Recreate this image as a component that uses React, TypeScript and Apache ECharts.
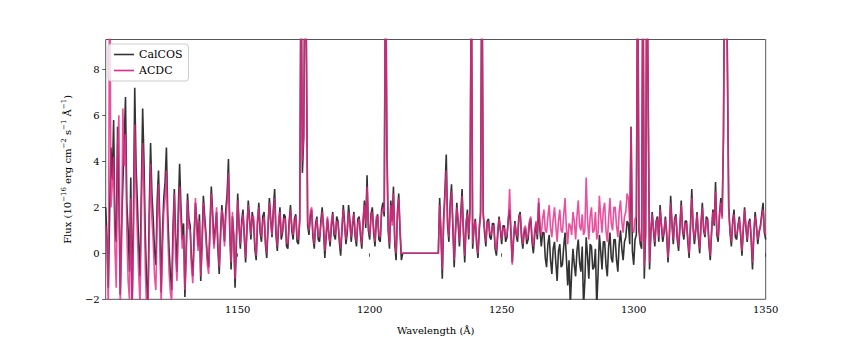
import React, { useEffect, useRef } from "react";
import * as echarts from "echarts";

const START_WAVELENGTH = 1100; // first sample (Å)
const STEP = 0.5; // sample spacing (Å)

// CalCOS flux, 1100–1350 Å every 0.5 Å (10 per row = 5 Å)
const calcos = [
  2.0, 0.6, -1.5, 1.8, 4.6, 3.2, 5.8, 1.1, 0.5, 5.5,
  2.4, -1.8, 1.0, 3.0, 4.9, 6.8, 2.2, 1.0, -0.8, 3.3,
  -2.4, 1.5, 7.2, 3.8, 2.2, 0.4, -1.0, 2.7, 6.3, 4.0,
  0.8, -1.2, -2.2, 1.9, 4.8, 2.6, 1.5, 0.1, -0.5, 2.3,
  3.6, 1.4, -1.7, 0.9, 2.4, 3.1, 4.6, 1.7, 0.2, -0.9,
  -1.6, 1.1, 2.8, 0.7, -0.8, 1.9, 3.9, 2.0, 0.6, 1.3,
  -1.9, 0.2, 2.6, 1.5, 1.2, -0.3, -1.0, 0.8, 2.2, 1.4,
  0.3, 1.7, -1.2, 0.5, 2.5, 1.6, 0.8, -0.2, -0.6, 1.2,
  2.9, 1.8, 0.4, 1.1, 1.8, 0.2, -0.9, 0.9, 2.1, 1.3,
  0.5, 1.9, 2.6, 4.1, 0.9, -0.7, 1.6, 0.8, -1.5, 0.4,
  2.6, 1.2, 0.2, 1.4, 1.9, 0.7, -0.4, 1.0, 2.3, 1.5,
  0.6, 1.8, 1.4, 0.2, -0.3, 1.3, 2.2, 0.9, 0.5, 1.6,
  1.8, 0.4, -0.2, 1.1, 2.4, 1.5, 0.7, 1.9, 2.8, 0.8,
  0.1, 1.2, 2.0, 0.6, 0.9, 1.7, 1.6, 0.3, 0.2, 1.4,
  2.1, 1.0, 0.6, 1.5, 1.7, 0.5, 0.4, 1.5, 13, 3.5,
  5.0, 13, 9.0, 1.2, 0.8, 1.6, 1.9, 0.7, 0.2, 1.3,
  1.6, 0.6, 0.5, 1.4, 2.0, 1.1, -0.2, 0.7, 1.5, 0.9,
  0.3, 1.2, 1.8, 0.8, 0.6, 1.6, 1.4, 0.5, -0.1, 1.0,
  2.1, 1.3, 0.4, 0.9, 2.1, 1.4, 0.5, 1.2, 1.8, 0.7,
  0.3, 1.5, 1.6, 0.8, 0.2, 1.3, 2.3, 1.1, 3.4, 1.0,
  0.6, 1.7, 2.0, 0.9, 0.3, 1.4, 1.7, 0.6, 0.5, 1.9,
  2.2, 1.6, 14, 4.6, 1.0, 0.2, 2.3, 1.4, 2.9, 0.4,
  -0.3, 1.8, 2.6, 0.9, -0.3, 0, 0, 0, 0, 0,
  0, 0, 0, 0, 0, 0, 0, 0, 0, 0,
  0, 0, 0, 0, 0, 0, 0, 0, 0, 0,
  0, 0, 0, 2.4, 0.8, -1.1, 1.5, 2.7, 4.3, 1.2,
  0.5, 2.2, 3.0, 1.1, -0.6, 0.9, 2.2, 1.3, 0.3, 1.7,
  2.8, 0.9, -0.4, 1.2, 1.9, 0.6, 2.0, 13, 0.2, 1.1,
  1.5, 0.4, -0.2, 1.0, 1.8, 14, 1.8, 0.9, 0.3, 1.4,
  1.5, 0.7, 0.6, 1.3, 1.3, 0.2, -0.1, 0.8, 1.6, 1.0,
  0.4, 1.2, 1.2, 0.5, 0.7, 1.5, 1.9, 0.9, -0.4, 0.6,
  1.4, 0.8, 0.5, 1.6, 1.8, 0.7, 0.2, 0.9, 1.1, 0.4,
  0.6, 1.3, 1.5, 0.5, 0.0, 0.8, 1.3, 0.6, 2.2, 1.0,
  0.3, 0.9, 0.9, -0.2, -0.6, 0.4, 0.8, -0.3, -0.9, 0.2,
  0.5, -0.4, -1.2, 0.1, 0.4, -0.6, -0.5, 0.3, 0.9, -0.2,
  -1.4, -0.3, -2.3, -0.8, 0.2, -0.5, -1.0, 0.1, 0.6, -0.4,
  -0.8, 0.3, -2.3, -1.2, 0.7, -0.1, -1.1, 0.4, 0.3, -0.7,
  -0.6, 0.2, -2.3, -0.9, 0.8, 0.1, -0.7, 0.5, 0.5, -0.5,
  -1.0, 0.3, 0.9, -0.2, -0.4, 0.6, 0.6, -0.3, -0.8, 0.4,
  1.0, 0.2, -0.3, 0.5, 0.7, 1.4, 1.3, 0.4, 5.5, 0.1,
  -0.5, 0.6, 0.8, 14, 1.0, 0.4, 0.2, 14, -1.1, 0.8,
  14, 6.4, -0.7, 0.9, 1.8, 1.0, 0.3, 1.4, 1.6, 0.5,
  2.1, 1.2, 0.5, 0.9, 1.6, 0.8, -0.4, 0.7, 2.5, 1.3,
  0.4, 1.5, 1.7, 0.6, 0.1, 1.1, 2.3, 1.0, 0.6, 1.4,
  1.4, 0.5, -0.2, 1.2, 2.8, 1.1, 0.4, 1.0, 1.8, 0.7,
  0.0, 1.3, 2.2, 1.0, 0.7, 1.6, 1.5, 0.4, -0.3, 0.9,
  1.9, 1.2, 3.1, 0.8, 0.5, 1.7, 2.4, 1.6, 5.0, 14,
  14, 8.0, 2.0, 0.9, 0.3, 1.4, 1.9, 0.7, 0.6, 1.2,
  1.6, 0.8, -0.1, 1.0, 2.0, 1.1, 0.5, 1.3, 1.5, 0.6,
  -0.7, 0.8, 1.8, 1.2, 0.4, 0.9, 1.2, 1.7, 2.2, 0.9,
  0.6,
];

// ACDC flux, same sampling
const acdc = [
  1.2, 0.3, -2.4, 14, 2.0, 3.0, 4.2, 0.2, -1.5, 4.6,
  6.0, -2.3, 0.3, 6.3, 3.8, 5.2, 1.0, -1.2, -2.0, 2.4,
  -2.5, 0.4, 5.6, 2.6, 0.8, -0.9, -2.2, 1.6, 4.8, 2.8,
  -0.6, -2.5, -2.4, 0.8, 3.9, 1.5, 0.5, -1.0, -1.6, 1.4,
  3.0, 0.6, -2.2, 0.1, 1.8, 2.4, 3.6, 0.9, -0.8, -1.7,
  -2.1, 0.4, 2.6, -0.2, -1.2, 1.2, 2.9, 1.4, 0.2, 0.8,
  -1.6, -0.2, 2.3, 1.1, 1.0, -0.6, -1.3, 0.4, 2.4, 1.0,
  0.1, 1.4, -1.0, 0.2, 2.2, 1.3, 0.6, -0.5, -0.9, 0.9,
  2.6, 1.5, 0.2, 0.9, 2.0, 0.5, -0.6, 0.6, 1.9, 1.6,
  0.3, 1.6, 2.2, 3.5, 1.1, -0.4, 1.8, 0.6, -1.1, 0.7,
  2.3, 1.4, 0.4, 1.2, 1.7, 0.9, -0.2, 1.2, 2.1, 1.3,
  0.8, 1.6, 1.6, 0.4, -0.1, 1.5, 2.0, 1.1, 0.7, 1.4,
  1.6, 0.6, 0.0, 1.3, 2.2, 1.3, 0.8, 1.7, 2.4, 1.0,
  0.3, 1.4, 1.8, 0.8, 1.0, 1.5, 1.5, 0.5, 0.4, 1.2,
  1.9, 1.2, 0.8, 1.3, 1.6, 0.7, 0.6, 1.4, 13, 4.0,
  5.2, 13, 9.5, 1.4, 1.0, 1.8, 2.0, 0.9, 0.4, 1.1,
  1.5, 0.8, 0.7, 1.2, 1.8, 1.3, 0.1, 0.9, 1.6, 0.7,
  0.5, 1.4, 1.7, 1.0, 0.8, 1.4, 1.3, 0.7, 0.2, 1.2,
  1.9, 1.1, 0.6, 1.1, 1.8, 1.2, 0.7, 1.4, 1.7, 0.9,
  0.5, 1.3, 1.5, 1.0, 0.4, 1.5, 2.1, 1.3, 2.9, 1.2,
  0.8, 1.5, 1.8, 1.1, 0.5, 1.6, 1.6, 0.8, 0.7, 1.7,
  2.0, 1.8, 14, 5.0, 1.2, 0.4, 2.1, 1.2, 2.6, 0.6,
  0.0, 1.6, 2.4, 1.1, 0.0, 0, 0, 0, 0, 0,
  0, 0, 0, 0, 0, 0, 0, 0, 0, 0,
  0, 0, 0, 0, 0, 0, 0, 0, 0, 0,
  0, 0, 0, 2.1, 1.0, -0.7, 1.3, 2.4, 3.6, 1.4,
  0.7, 2.0, 2.7, 1.3, -0.3, 1.1, 2.0, 1.5, 0.5, 1.5,
  2.5, 1.1, -0.1, 1.4, 1.7, 0.8, 1.8, 13, 0.4, 1.2,
  1.4, 0.6, 0.0, 1.2, 1.6, 13, 1.6, 1.1, 0.5, 1.3,
  1.4, 0.9, 0.8, 1.2, 1.2, 0.4, 0.1, 1.0, 1.5, 1.1,
  0.6, 1.1, 1.1, 0.7, 0.8, 1.4, 2.8, 1.0, -0.5, 0.8,
  1.3, 0.9, 0.7, 1.5, 1.7, 0.9, 0.4, 1.1, 1.2, 0.6,
  0.8, 1.4, 1.6, 0.7, 0.3, 1.0, 1.4, 0.8, 2.4, 1.2,
  0.8, 1.5, 1.9, 1.0, 0.9, 1.6, 2.1, 1.1, 0.7, 1.5,
  2.0, 1.2, 0.5, 1.4, 1.9, 1.0, 0.9, 1.7, 2.4, 1.1,
  0.4, 1.3, 1.2, 0.8, 1.8, 1.4, 0.6, 1.6, 2.3, 1.2,
  1.0, 1.7, 0.8, 1.0, 3.3, 1.5, 0.6, 1.6, 2.0, 0.9,
  1.0, 1.8, 0.6, 0.9, 2.5, 1.6, 0.9, 1.9, 2.2, 1.0,
  0.5, 1.5, 2.4, 1.3, 1.0, 2.0, 2.0, 1.2, 0.7, 1.8,
  2.3, 1.4, 0.9, 1.6, 1.8, 2.6, 2.4, 1.3, 5.5, 1.0,
  0.9, 1.5, 1.6, 14, 1.2, 0.6, 0.5, 14, -0.6, 1.0,
  14, 6.4, -0.4, 1.0, 1.7, 1.1, 0.5, 1.3, 1.5, 0.7,
  1.9, 1.3, 0.7, 1.0, 1.5, 0.9, -0.2, 0.8, 2.2, 1.2,
  0.6, 1.4, 1.6, 0.8, 0.3, 1.2, 2.1, 1.1, 0.8, 1.3,
  1.3, 0.7, 0.0, 1.1, 2.4, 1.2, 0.6, 1.1, 1.7, 0.9,
  0.2, 1.2, 2.0, 1.1, 0.8, 1.5, 1.4, 0.6, -0.1, 1.0,
  1.8, 1.3, 2.7, 0.9, 0.7, 1.6, 2.2, 1.5, 5.2, 14,
  14, 8.4, 1.8, 1.0, 0.5, 1.3, 1.7, 0.9, 0.8, 1.1,
  1.5, 0.9, 0.1, 1.1, 1.9, 1.2, 0.6, 1.2, 1.4, 0.8,
  -0.4, 0.9, 1.6, 1.1, 0.6, 1.0, 1.1, 1.6, 1.9, 1.0,
  0.8,
];

const FONT = "DejaVu Serif";

export default function App() {
  const ref = useRef<HTMLDivElement>(null);
  useEffect(() => {
    if (!ref.current) return;
    const chart = echarts.init(ref.current, undefined, { renderer: "svg" });
    const toPairs = (arr: number[]) =>
      arr.map((v, i) => [START_WAVELENGTH + i * STEP, v]);
    chart.setOption({
      animation: false,
      backgroundColor: "#ffffff",
      textStyle: { fontFamily: FONT },
      grid: {
        left: 105.7,
        right: 85.3,
        top: 39.5,
        bottom: 37.7,
        show: true,
        borderColor: "#555555",
        borderWidth: 1,
        outerBoundsMode: "none",
      },
      legend: {
        orient: "vertical",
        left: 108,
        top: 44,
        icon: "rect",
        itemWidth: 20,
        itemHeight: 1.6,
        itemGap: 5,
        padding: [5, 6, 5, 6],
        backgroundColor: "rgba(255,255,255,0.8)",
        borderColor: "#cccccc",
        borderWidth: 1,
        borderRadius: 3,
        textStyle: { fontFamily: FONT, fontSize: 11, color: "#000" },
        data: ["CalCOS", "ACDC"],
      },
      xAxis: {
        type: "value",
        min: 1100,
        max: 1350,
        interval: 50,
        name: "Wavelength (Å)",
        nameLocation: "middle",
        nameGap: 26,
        nameTextStyle: { fontFamily: FONT, fontSize: 10, color: "#000" },
        axisLine: { show: false },
        axisTick: { show: true, length: 3.5, lineStyle: { color: "#333", width: 0.8 } },
        axisLabel: {
          showMinLabel: false,
          fontFamily: FONT,
          fontSize: 10,
          color: "#000",
          margin: 5,
          formatter: (v: number) => String(v),
        },
        splitLine: { show: false },
      },
      yAxis: {
        type: "value",
        min: -2,
        max: 9.3,
        interval: 2,
        name:
          "{a|Flux (10}{s|−16}{a| erg cm}{s|−2}{a| s}{s|−1}{a| Å}{s|−1}{a|)}",
        nameLocation: "middle",
        nameRotate: 90,
        nameGap: 31,
        nameTextStyle: {
          fontFamily: FONT,
          fontSize: 10,
          color: "#000",
          rich: {
            a: { fontFamily: FONT, fontSize: 10, color: "#000" },
            s: { fontFamily: FONT, fontSize: 7, color: "#000", padding: [0, 0, 7, 0] },
          },
        },
        axisLine: { show: false },
        axisTick: { show: true, length: 3.5, lineStyle: { color: "#333", width: 0.8 } },
        axisLabel: {
          showMaxLabel: false,
          fontFamily: FONT,
          fontSize: 10,
          color: "#000",
          margin: 6,
          formatter: (v: number) => (v < 0 ? "−" + Math.abs(v) : String(v)),
        },
        splitLine: { show: false },
      },
      series: [
        {
          name: "CalCOS",
          type: "line",
          data: toPairs(calcos),
          showSymbol: false,
          symbol: "none",
          clip: true,
          color: "#333333",
          lineStyle: { color: "#333333", width: 1.6, opacity: 1 },
        },
        {
          name: "ACDC",
          type: "line",
          data: toPairs(acdc),
          showSymbol: false,
          symbol: "none",
          clip: true,
          color: "#e7298a",
          lineStyle: { color: "#e7298a", width: 1.6, opacity: 0.82 },
        },
      ],
    });
    return () => chart.dispose();
  }, []);
  return (
    <div
      ref={ref}
      style={{ position: "fixed", left: 0, top: 0, width: 851, height: 337 }}
    />
  );
}
